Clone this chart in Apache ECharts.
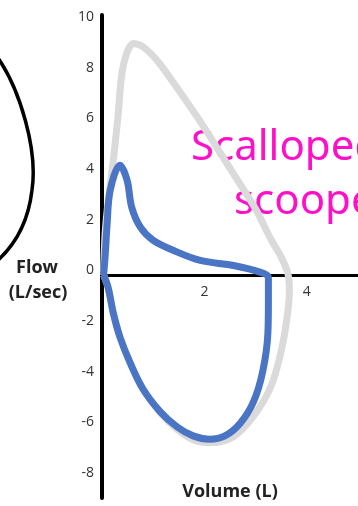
<!DOCTYPE html>
<html>
<head>
<meta charset="utf-8">
<script src="https://cdn.jsdelivr.net/npm/echarts@6/dist/echarts.min.js"></script>
<style>
  html, body { margin: 0; padding: 0; background: #fff; }
  #chart { width: 358px; height: 506px; }
</style>
</head>
<body>
<div id="chart"></div>
<script>
// normal loop (gray)
var normalVolume = [0.03, 0.06, 0.12, 0.22, 0.31, 0.41, 0.61, 0.8, 1.1, 1.5, 2.0, 2.5, 3.0, 3.3, 3.5, 3.63, 3.66, 3.62, 3.5, 3.3, 2.95, 2.55, 2.1, 1.78, 1.47, 1.14, 0.8, 0.55, 0.35, 0.22, 0.12, 0.03];
var normalFlow = [0, 1.6, 2.9, 4.5, 6.2, 8.2, 9.13, 9.0, 8.4, 7.28, 5.8, 4.2, 2.6, 1.4, 0.7, 0.05, -0.6, -1.6, -3.0, -4.4, -5.6, -6.4, -6.62, -6.5, -6.1, -5.45, -4.5, -3.47, -2.45, -1.5, -0.5, 0];

// scooped loop (blue)
var scoopVolume = [0.03, 0.06, 0.1, 0.16, 0.35, 0.49, 0.58, 0.75, 1.0, 1.39, 1.92, 2.57, 3.1, 3.25, 3.25, 3.24, 3.14, 2.96, 2.7, 2.4, 2.1, 1.78, 1.47, 1.14, 0.8, 0.55, 0.35, 0.22, 0.12, 0.03];
var scoopFlow = [0, 0.7, 2.0, 3.34, 4.32, 3.73, 2.67, 1.88, 1.36, 0.97, 0.57, 0.37, 0.1, -0.1, -1.0, -2.3, -3.8, -5.0, -5.85, -6.35, -6.48, -6.35, -6.0, -5.4, -4.5, -3.47, -2.45, -1.5, -0.5, 0];

var flowTicks = [-8, -6, -4, -2, 0, 2, 4, 6, 8, 10];
var volumeTicks = [2, 4];

function pairs(xs, ys) {
  return xs.map(function (x, i) { return [x, ys[i]]; });
}

var myChart = echarts.init(document.getElementById("chart"));
var option = {
  animation: false,
  backgroundColor: "#fff",
  grid: { left: 102, right: 0, top: 15, bottom: 8, outerBoundsMode: "none" },
  xAxis: {
    type: "value",
    min: 0,
    max: 5,
    // sits on flow = 0 (grid bottom is 483px below top, 0 is 259.9px below top)
    offset: -223.1,
    axisLine: { onZero: false, lineStyle: { color: "#000", width: 3 } },
    axisTick: { show: false },
    splitLine: { show: false },
    axisLabel: {
      customValues: volumeTicks,
      color: "#333",
      fontSize: 14,
      fontFamily: "Open Sans",
      margin: 10
    }
  },
  yAxis: {
    type: "value",
    min: -8.8,
    max: 10.25,
    axisLine: { lineStyle: { color: "#000", width: 4 } },
    axisTick: { show: false },
    splitLine: { show: false },
    axisLabel: {
      customValues: flowTicks,
      color: "#333",
      fontSize: 14,
      fontFamily: "Open Sans",
      margin: 8,
      verticalAlign: "bottom",
      lineHeight: 9
    }
  },
  graphic: [
    {
      type: "bezierCurve",
      shape: { x1: -2, y1: 58, cpx1: 20, cpy1: 90, cpx2: 38, cpy2: 150, x2: 32, y2: 190 },
      style: { stroke: "#000", lineWidth: 3.5, fill: null }
    },
    {
      type: "bezierCurve",
      shape: { x1: 32, y1: 190, cpx1: 28, cpy1: 225, cpx2: 12, cpy2: 248, x2: -4, y2: 262 },
      style: { stroke: "#000", lineWidth: 3.5, fill: null }
    },
    {
      type: "text",
      style: { text: "Flow", x: 37, y: 268, fill: "#222", font: "bold 18px 'Open Sans'", align: "center", verticalAlign: "middle" }
    },
    {
      type: "text",
      style: { text: "(L/sec)", x: 38, y: 293, fill: "#222", font: "bold 18px 'Open Sans'", align: "center", verticalAlign: "middle" }
    },
    {
      type: "text",
      style: { text: "Volume (L)", x: 230, y: 492, fill: "#222", font: "bold 18px 'Open Sans'", align: "center", verticalAlign: "middle" }
    },
    {
      type: "text",
      style: { text: "Scalloped", x: 191, y: 148, fill: "#ff10c8", font: "42px 'Noto Sans'", align: "left", verticalAlign: "middle" }
    },
    {
      type: "text",
      style: { text: "scooped", x: 234, y: 202, fill: "#ff10c8", font: "42px 'Noto Sans'", align: "left", verticalAlign: "middle" }
    }
  ],
  series: [
    {
      name: "normal",
      type: "line",
      data: pairs(normalVolume, normalFlow),
      smooth: 0.3,
      symbol: "none",
      lineStyle: { color: "#dadada", width: 7 }
    },
    {
      name: "scooped",
      type: "line",
      data: pairs(scoopVolume, scoopFlow),
      smooth: 0.35,
      symbol: "none",
      lineStyle: { color: "#4a74c4", width: 7 }
    }
  ]
};
myChart.setOption(option);
</script>
</body>
</html>
